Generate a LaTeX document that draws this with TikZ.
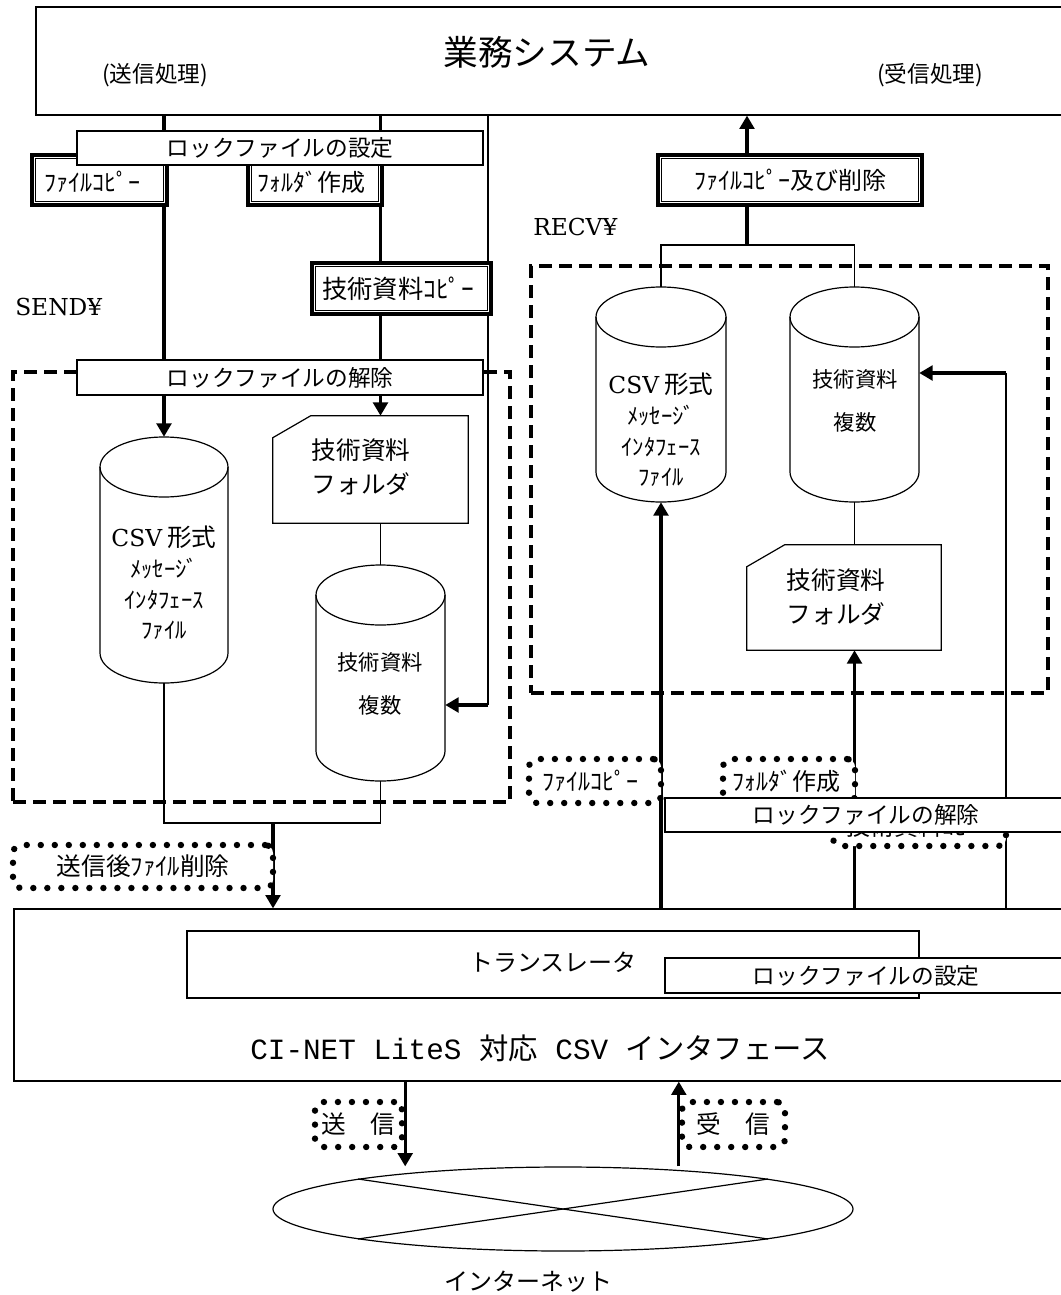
\documentclass[tikz,border=0pt]{standalone}
\usepackage{fontspec}
\newfontfamily\cjk{Noto Sans CJK JP}
\newfontfamily\lmono{Liberation Mono}
\newfontfamily\lserif{DejaVu Serif}
\usetikzlibrary{
    arrows.meta,
    calc,
    fit,
    shapes.geometric
}
\definecolor{ink}{RGB}{0,0,0}
\newcommand\fsz[1]{\fontsize{#1}{#1}\selectfont}
% drum (cylinder): name, left, right, top, bottom
\newcommand\drumnode[5]{%
    \node[inner sep=0pt, fit={(#2,#4) (#3,#5)}] (#1) {};
    \filldraw[drum] (#2,#4+30) -- (#2,#5-30)
        arc[start angle=180, end angle=0, x radius={(#3-#2)/2}, y radius=30]
        -- (#3,#4+30)
        arc[start angle=0, end angle=-180, x radius={(#3-#2)/2}, y radius=30] -- cycle;
    \draw[drum, fill=none] (#2,#4+30)
        arc[start angle=180, end angle=0, x radius={(#3-#2)/2}, y radius=30];
}
% folder card: name, left, right, top, bottom
\newcommand\cardnode[5]{%
    \node[inner sep=0pt, fit={(#2,#4) (#3,#5)}] (#1) {};
    \filldraw[drum] ($(#1.north west)+(38,0)$) -- (#1.north east) -- (#1.south east)
        -- (#1.south west) -- ($(#1.north west)+(0,22)$) -- cycle;
}
\tikzset{
    box/.style={
        rectangle,
        draw=ink,
        line width=0.9pt,
        fill=white,
        inner sep=0pt
    },
    dblbox/.style={
        rectangle,
        draw=ink,
        line width=2.6pt,
        fill=white,
        inner sep=0pt,
        path picture={
            \draw[draw=ink, line width=0.75pt]
                ([shift={(2.5pt,-2.5pt)}]path picture bounding box.north west) rectangle
                ([shift={(-2.5pt,2.5pt)}]path picture bounding box.south east);
        }
    },
    dotbox/.style={
        rectangle,
        draw=ink,
        line width=4.8pt,
        line cap=round,
        dash pattern=on 0.01pt off 10.5pt,
        rounded corners=6pt,
        fill=white,
        inner sep=0pt
    },
    workarea/.style={
        draw=ink,
        line width=2.6pt,
        dash pattern=on 10pt off 5pt,
        inner sep=0pt
    },
    drum/.style={draw=ink, line width=0.9pt, fill=white},
    thinline/.style={draw=ink, line width=0.9pt},
    thickline/.style={draw=ink, line width=2.4pt},
    flow/.style={thickline, -{Triangle[width=11pt, length=10pt]}},
    boxtext/.style={font=\cjk\fsz{17}, inner sep=0pt},
    steptext/.style={font=\cjk\fsz{18}, inner sep=0pt},
    annot/.style={font=\cjk\fsz{17}, inner sep=0pt},
    drumtext/.style={font=\cjk\fontsize{17}{23}\selectfont, align=center, inner sep=0pt},
    cardtext/.style={font=\cjk\fontsize{18.5}{25.5}\selectfont, align=center, inner sep=0pt},
    dirlabel/.style={font=\lserif\fsz{17.5}, anchor=west, inner sep=0pt}
}

\begin{document}
\begin{tikzpicture}[x=0.75pt, y=-0.75pt]
    \useasboundingbox (0,0) rectangle (1060,1295);

    % Business system
    \node[box, fit={(36,7) (1070,115)}] (gyomu) {};
    \node[font=\cjk\fsz{26}] (gyomutxt) at (547,52) {業務システム};
    \node[annot] (sendproc) at (155,75) {(送信処理)};
    \node[annot] (recvproc) at (930,75) {(受信処理)};

    % Folder areas
    \node[workarea, fit={(13,372) (510,802)}] (sendarea) {};
    \node[workarea, fit={(531,266) (1048,693)}] (recvarea) {};
    \node[dirlabel] (sendlbl) at (15,307) {SEND¥};
    \node[dirlabel] (recvlbl) at (533,227) {RECV¥};

    % Files
    \drumnode{csvS}{100}{228}{437}{683}
    \cardnode{folderS}{273}{468}{416}{523}
    \drumnode{docS}{316}{445}{565}{781}
    \drumnode{csvR}{596}{726}{287}{502}
    \drumnode{docR}{790}{919}{287}{502}
    \cardnode{folderR}{747}{941}{545}{650}

    \node[drumtext] (csvStxt) at (164,583)
        {{\lserif\fsz{17.5}CSV} {\fsz{18.5}形式}\\ﾒｯｾｰｼﾞ\\ｲﾝﾀﾌｪｰｽ\\ﾌｧｲﾙ};
    \node[drumtext] (csvRtxt) at (661,430)
        {{\lserif\fsz{17.5}CSV} {\fsz{18.5}形式}\\ﾒｯｾｰｼﾞ\\ｲﾝﾀﾌｪｰｽ\\ﾌｧｲﾙ};
    \node[drumtext, font=\cjk\fontsize{16}{32}\selectfont] (docStxt) at (380,684) {技術資料\\複数};
    \node[drumtext, font=\cjk\fontsize{16}{32}\selectfont] (docRtxt) at (855,401) {技術資料\\複数};
    \node[cardtext] (folderStxt) at (361,467) {技術資料\\フォルダ};
    \node[cardtext] (folderRtxt) at (836,597) {技術資料\\フォルダ};

    % Interface
    \node[box, fit={(14,909) (1070,1081)}] (cinet) {};
    \node[font=\fsz{22}] (cinettxt) at (540,1048)
        {{\lmono CI-NET LiteS }{\cjk 対応}{\lmono\ CSV }{\cjk インタフェース}};
    \node[box, fit={(187,931) (919,998)}] (trans) {};
    \node[steptext] (transtxt) at (553,962) {トランスレータ};
    \node[box, fit={(665,958) (1070,993)}] (locksetI) {};
    \node[boxtext] (locksetItxt) at (866,976) {ロックファイルの設定};

    % Internet
    \node[ellipse, draw=ink, line width=0.9pt, minimum width=435pt, minimum height=63pt,
        inner sep=0pt] (net) at (563,1209) {};
    \draw[thinline] ($(net.center)+(-205,-30)$) -- ($(net.center)+(205,30)$);
    \draw[thinline] ($(net.center)+(-205,30)$) -- ($(net.center)+(205,-30)$);
    \node[font=\cjk\fsz{18}] (nettxt) at (528,1282) {インターネット};
    \node[dotbox, fit={(315,1102) (402,1147)}] (sendbox) {};
    \node[steptext, font=\cjk\fsz{18.5}] (sendtxt) at (sendbox) {送　信};
    \node[dotbox, fit={(682,1102) (785,1147)}] (recvbox) {};
    \node[steptext, font=\cjk\fsz{18.5}] (recvtxt) at (recvbox) {受　信};

    \coordinate (bendS) at (488,705);
    \coordinate (joinS) at (273,823);
    \coordinate (joinR) at (747,245);
    \coordinate (bendR) at (1006,373);

    % Send side
    \draw[flow] (csvS.north |- gyomu.south) -- (csvS.north);
    \draw[flow] (docS.north |- gyomu.south) -- (folderS.north -| docS.north);
    \draw[thinline] (bendS |- gyomu.south) -- (bendS);
    \draw[flow] (bendS) -- (bendS -| docS.east);
    \draw[thinline] (folderS.south -| docS.north) -- (docS.north);
    \draw[thinline] (csvS.south) -- (csvS.south |- joinS) -- (docS.south |- joinS) -- (docS.south);
    \draw[flow] (joinS) -- (joinS |- cinet.north);

    % Receive side
    \draw[flow] (joinR) -- (joinR |- gyomu.south);
    \draw[thinline] (csvR.north) -- (csvR.north |- joinR) -- (docR.north |- joinR) -- (docR.north);
    \draw[thinline] (docR.south) -- (docR.south |- folderR.north);
    \draw[flow] (csvR.south |- cinet.north) -- (csvR.south);
    \draw[flow] (docR.south |- cinet.north) -- (docR.south |- folderR.south);
    \draw[thinline] (bendR |- cinet.north) -- (bendR);
    \draw[flow] (bendR) -- (bendR -| docR.east);

    % Internet traffic
    \draw[flow] (sendbox.east |- cinet.south) -- (sendbox.east |- net.north);
    \draw[flow] (recvbox.west |- net.north) -- (recvbox.west |- cinet.south);

    % Steps, send side
    \node[dblbox, fit={(32,155) (167,205)}] (fcopyS) {};
    \node[steptext] (fcopyStxt) at (92,182) {ﾌｧｲﾙｺﾋﾟｰ};
    \node[dblbox, fit={(248,155) (382,205)}] (fmakeS) {};
    \node[steptext] (fmakeStxt) at (311,182) {ﾌｫﾙﾀﾞ作成};
    \node[box, fit={(77,131) (483,165)}] (locksetS) {};
    \node[boxtext] (locksetStxt) at (locksetS) {ロックファイルの設定};
    \node[dblbox, fit={(312,263) (491,314)}] (tcopyS) {};
    \node[steptext, font=\cjk\fsz{19}] (tcopyStxt) at (398,289) {技術資料ｺﾋﾟｰ};
    \node[box, fit={(77,360) (483,395)}] (lockrelS) {};
    \node[boxtext] (lockrelStxt) at (lockrelS) {ロックファイルの解除};
    \node[dotbox, fit={(13,845) (273,888)}] (delsend) {};
    \node[steptext, font=\cjk\fsz{18.5}] (delsendtxt) at (delsend) {送信後ﾌｧｲﾙ削除};

    % Steps, receive side
    \node[dblbox, fit={(658,155) (922,205)}] (fcopyR) {};
    \node[steptext] (fcopyRtxt) at (fcopyR) {ﾌｧｲﾙｺﾋﾟｰ及び削除};
    \node[dotbox, fit={(529,759) (661,803)}] (fcopyD) {};
    \node[steptext] (fcopyDtxt) at (590,781) {ﾌｧｲﾙｺﾋﾟｰ};
    \node[dotbox, fit={(723,759) (855,803)}] (fmakeD) {};
    \node[steptext] (fmakeDtxt) at (786,781) {ﾌｫﾙﾀﾞ作成};
    \node[dotbox, fit={(833,806) (1006,846)}] (tcopyD) {};
    \node[steptext] (tcopyDtxt) at (918,826) {技術資料ｺﾋﾟｰ};
    \node[box, fit={(665,798) (1070,832)}] (lockrelR) {};
    \node[boxtext] (lockrelRtxt) at (866,815) {ロックファイルの解除};

\end{tikzpicture}
\end{document}
